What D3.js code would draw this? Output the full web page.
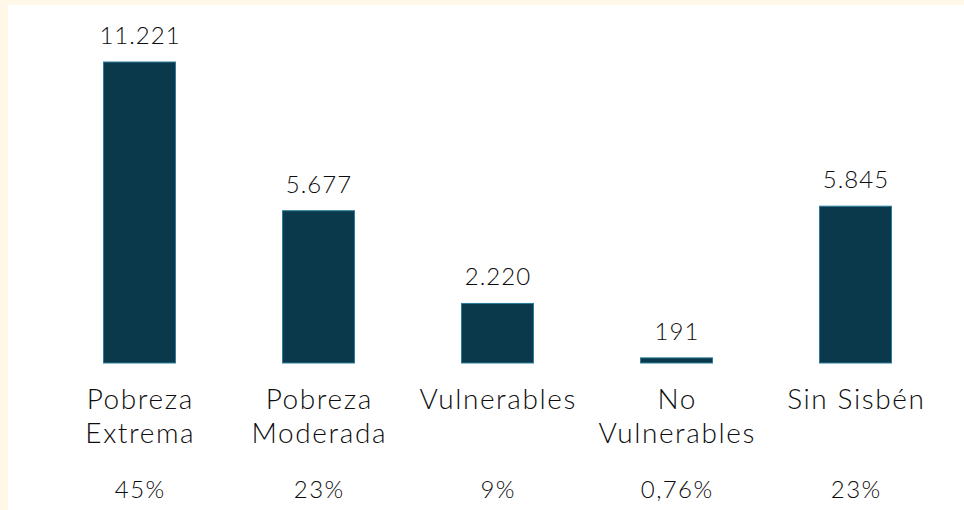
<!DOCTYPE html>
<html>
<head>
<meta charset="utf-8">
<script src="https://cdn.jsdelivr.net/npm/d3@7"></script>
<style>
  html, body { margin: 0; padding: 0; background: #fff8e9; }
  svg { display: block; }
  text { font-family: "Lato", "Noto Sans", sans-serif; font-weight: 300; fill: #0d0d0d; }
</style>
</head>
<body>
<script>
const categories = [["Pobreza", "Extrema"], ["Pobreza", "Moderada"], ["Vulnerables"], ["No", "Vulnerables"], ["Sin Sisbén"]];
const values = [11221, 5677, 2220, 191, 5845];
const valueLabels = ["11.221", "5.677", "2.220", "191", "5.845"];
const percentLabels = ["45%", "23%", "9%", "0,76%", "23%"];

const W = 964, H = 510;
const svg = d3.select("body").append("svg").attr("width", W).attr("height", H);

svg.append("rect").attr("x", 8).attr("y", 5).attr("width", W - 8).attr("height", H - 5).attr("fill", "#ffffff");

const idx = d3.range(values.length);
const x = d3.scalePoint().domain(idx).range([139.5, 855.5]);
const y = d3.scaleLinear().domain([0, 11221]).range([363, 62]);
const bw = 72;

svg.selectAll("rect.bar").data(idx).join("rect")
  .attr("class", "bar")
  .attr("x", i => x(i) - bw / 2)
  .attr("y", i => y(values[i]))
  .attr("width", bw)
  .attr("height", i => y(0) - y(values[i]))
  .attr("fill", "#0a394b")
  .attr("stroke", "#2b7c9b")
  .attr("stroke-width", 1);

svg.selectAll("text.val").data(idx).join("text")
  .attr("class", "val")
  .attr("x", i => x(i) + 0.5)
  .attr("y", i => y(values[i]) - 18)
  .attr("text-anchor", "middle")
  .attr("font-size", 24)
  .attr("letter-spacing", 1)
  .text(i => valueLabels[i]);

const cat = svg.selectAll("text.cat").data(idx).join("text")
  .attr("class", "cat")
  .attr("x", i => x(i))
  .attr("y", 409)
  .attr("text-anchor", "middle")
  .attr("font-size", 28)
  .attr("letter-spacing", 1.6);
cat.selectAll("tspan").data(i => categories[i].map(t => ({ t, i }))).join("tspan")
  .attr("x", d => x(d.i) + 0.8)
  .attr("dy", (d, j) => j === 0 ? 0 : 34)
  .text(d => d.t);

svg.selectAll("text.pct").data(idx).join("text")
  .attr("class", "pct")
  .attr("x", i => x(i) + 0.7)
  .attr("y", 498)
  .attr("text-anchor", "middle")
  .attr("font-size", 24)
  .attr("letter-spacing", 1.4)
  .text(i => percentLabels[i]);
</script>
</body>
</html>
